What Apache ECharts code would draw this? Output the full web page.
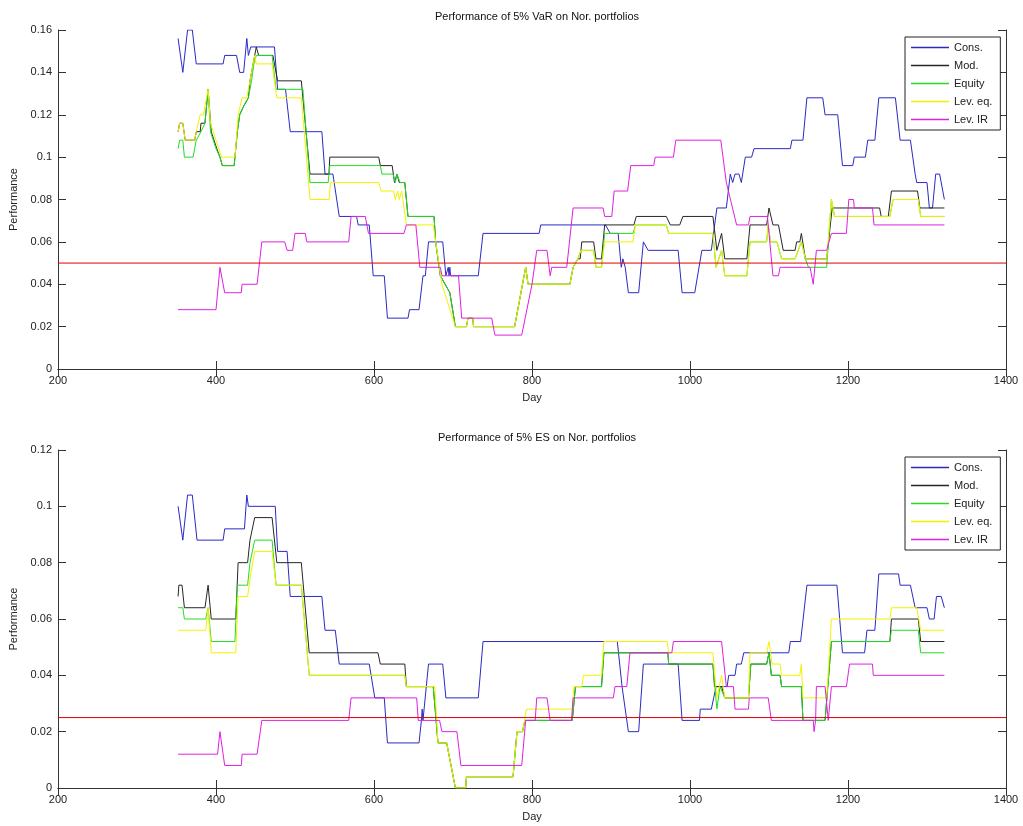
<!DOCTYPE html>
<html>
<head>
<meta charset="utf-8">
<script src="https://cdn.jsdelivr.net/npm/echarts@6/dist/echarts.min.js"></script>
<style>
html,body{margin:0;padding:0;background:#fff;}
#c{width:1023px;height:826px;}
</style>
</head>
<body>
<div id="c"></div>
<script>
// ---------- data: [day, performance] breakpoints ----------
var seriesNames = ['Cons.', 'Mod.', 'Equity', 'Lev. eq.', 'Lev. IR'];
var titles = ['Performance of 5% VaR on Nor. portfolios', 'Performance of 5% ES on Nor. portfolios'];
var refLevels = [0.05, 0.025];
var xRange = [200, 1400];
var yMaxes = [0.16, 0.12];

var varCons = [[352,0.156],[358,0.140],[364,0.160],[370,0.160],[375,0.144],[409,0.144],[411,0.148],[426,0.148],[430,0.140],[435,0.140],[439,0.156],[441,0.148],[444,0.152],[474,0.152],[478,0.132],[488,0.132],[494,0.112],[534,0.112],[538,0.092],[548,0.092],[556,0.072],[578,0.072],[580,0.068],[594,0.068],[599,0.044],[613,0.044],[617,0.024],[643,0.024],[645,0.028],[657,0.028],[662,0.044],[665,0.044],[669,0.060],[687,0.060],[691,0.044],[694,0.048],[695,0.044],[696,0.048],[697,0.044],[732,0.044],[738,0.064],[809,0.064],[811,0.068],[893,0.068],[899,0.064],[909,0.064],[913,0.048],[915,0.052],[918,0.048],[922,0.036],[935,0.036],[941,0.060],[947,0.056],[985,0.056],[990,0.036],[1006,0.036],[1015,0.056],[1027,0.056],[1034,0.076],[1046,0.076],[1051,0.092],[1054,0.088],[1057,0.092],[1062,0.092],[1065,0.088],[1070,0.100],[1078,0.100],[1081,0.104],[1127,0.104],[1129,0.108],[1143,0.108],[1148,0.128],[1168,0.128],[1171,0.120],[1187,0.120],[1193,0.096],[1206,0.096],[1208,0.100],[1222,0.100],[1225,0.108],[1234,0.108],[1239,0.128],[1260,0.128],[1266,0.108],[1279,0.108],[1285,0.092],[1287,0.088],[1300,0.088],[1303,0.076],[1307,0.076],[1311,0.092],[1316,0.092],[1322,0.080]];

var varMod = [[352,0.112],[354,0.116],[358,0.116],[361,0.108],[373,0.108],[375,0.112],[380,0.112],[381,0.116],[386,0.116],[390,0.132],[394,0.112],[401,0.104],[405,0.100],[408,0.096],[423,0.096],[427,0.112],[430,0.120],[435,0.124],[441,0.128],[443,0.136],[447,0.144],[451,0.152],[454,0.148],[472,0.148],[478,0.136],[508,0.136],[519,0.092],[543,0.092],[544,0.100],[606,0.100],[608,0.096],[623,0.096],[626,0.088],[629,0.092],[632,0.088],[639,0.088],[643,0.072],[676,0.072],[678,0.060],[684,0.044],[696,0.036],[703,0.020],[717,0.020],[719,0.024],[725,0.024],[726,0.020],[778,0.020],[792,0.048],[795,0.040],[848,0.040],[852,0.048],[858,0.052],[861,0.052],[863,0.060],[878,0.060],[881,0.052],[888,0.052],[892,0.068],[929,0.068],[932,0.072],[970,0.072],[975,0.068],[987,0.068],[991,0.072],[1029,0.072],[1034,0.056],[1040,0.064],[1044,0.052],[1072,0.052],[1076,0.068],[1097,0.068],[1100,0.076],[1105,0.068],[1112,0.068],[1118,0.056],[1133,0.056],[1135,0.060],[1139,0.060],[1141,0.064],[1146,0.052],[1173,0.052],[1180,0.076],[1240,0.076],[1242,0.072],[1251,0.072],[1255,0.084],[1288,0.084],[1291,0.076],[1322,0.076]];

var varEquity = [[352,0.104],[354,0.108],[358,0.108],[360,0.100],[371,0.100],[375,0.108],[381,0.112],[386,0.116],[390,0.132],[393,0.112],[400,0.104],[405,0.100],[408,0.096],[423,0.096],[427,0.112],[430,0.120],[435,0.124],[441,0.128],[445,0.136],[448,0.144],[451,0.148],[471,0.148],[476,0.132],[510,0.132],[519,0.088],[542,0.088],[544,0.096],[608,0.096],[610,0.092],[624,0.092],[627,0.088],[629,0.092],[631,0.092],[633,0.088],[639,0.088],[643,0.072],[676,0.072],[678,0.060],[684,0.044],[696,0.036],[703,0.020],[717,0.020],[719,0.024],[725,0.024],[726,0.020],[778,0.020],[792,0.048],[795,0.040],[848,0.040],[852,0.048],[858,0.052],[862,0.056],[878,0.056],[881,0.048],[888,0.048],[892,0.064],[928,0.064],[931,0.068],[970,0.068],[973,0.064],[1029,0.064],[1033,0.048],[1040,0.056],[1044,0.044],[1072,0.044],[1076,0.060],[1097,0.060],[1099,0.068],[1102,0.060],[1110,0.060],[1116,0.052],[1133,0.052],[1141,0.060],[1146,0.052],[1150,0.048],[1173,0.048],[1179,0.080],[1183,0.072],[1253,0.072],[1257,0.080],[1289,0.080],[1292,0.072],[1322,0.072]];

var varLevEq = [[352,0.112],[354,0.116],[358,0.116],[361,0.108],[373,0.108],[375,0.112],[380,0.120],[384,0.120],[390,0.132],[393,0.116],[400,0.108],[407,0.100],[424,0.100],[428,0.120],[433,0.128],[439,0.128],[443,0.136],[449,0.148],[451,0.144],[471,0.144],[477,0.128],[508,0.128],[519,0.080],[543,0.080],[545,0.088],[606,0.088],[609,0.084],[625,0.084],[627,0.080],[630,0.084],[632,0.080],[635,0.084],[641,0.068],[675,0.068],[686,0.040],[703,0.020],[717,0.020],[719,0.024],[725,0.024],[726,0.020],[778,0.020],[792,0.048],[795,0.040],[848,0.040],[852,0.048],[858,0.052],[862,0.056],[878,0.056],[881,0.048],[888,0.048],[892,0.060],[928,0.060],[931,0.068],[970,0.068],[973,0.064],[1029,0.064],[1033,0.048],[1040,0.056],[1044,0.044],[1072,0.044],[1076,0.060],[1097,0.060],[1099,0.068],[1102,0.060],[1110,0.060],[1116,0.052],[1133,0.052],[1141,0.060],[1146,0.052],[1173,0.052],[1179,0.080],[1183,0.072],[1253,0.072],[1257,0.080],[1289,0.080],[1292,0.072],[1322,0.072]];

var varLevIR = [[352,0.028],[400,0.028],[405,0.048],[407,0.048],[411,0.036],[432,0.036],[433,0.040],[452,0.040],[458,0.060],[487,0.060],[490,0.056],[497,0.056],[500,0.064],[513,0.064],[515,0.060],[568,0.060],[571,0.072],[589,0.072],[593,0.064],[638,0.064],[641,0.068],[653,0.068],[658,0.048],[684,0.048],[686,0.044],[707,0.044],[711,0.024],[749,0.024],[753,0.016],[787,0.016],[800,0.040],[806,0.056],[819,0.056],[823,0.044],[825,0.048],[844,0.048],[852,0.076],[890,0.076],[892,0.072],[901,0.072],[904,0.084],[921,0.084],[925,0.096],[954,0.096],[956,0.100],[979,0.100],[982,0.108],[1039,0.108],[1046,0.088],[1059,0.068],[1074,0.068],[1076,0.072],[1098,0.072],[1100,0.064],[1105,0.044],[1112,0.044],[1114,0.048],[1152,0.048],[1156,0.040],[1160,0.056],[1173,0.056],[1179,0.064],[1198,0.064],[1201,0.080],[1207,0.080],[1208,0.076],[1231,0.076],[1233,0.068],[1322,0.068]];

var esCons = [[352,0.100],[358,0.088],[364,0.104],[370,0.104],[376,0.088],[409,0.088],[411,0.092],[436,0.092],[439,0.104],[441,0.100],[475,0.100],[478,0.084],[490,0.084],[494,0.068],[534,0.068],[538,0.056],[551,0.056],[556,0.044],[594,0.044],[601,0.032],[613,0.032],[617,0.016],[657,0.016],[660,0.024],[661,0.028],[662,0.024],[669,0.044],[687,0.044],[691,0.032],[732,0.032],[738,0.052],[908,0.052],[914,0.036],[922,0.020],[935,0.020],[941,0.044],[985,0.044],[990,0.024],[1012,0.024],[1013,0.028],[1027,0.028],[1030,0.032],[1033,0.036],[1047,0.036],[1049,0.040],[1057,0.040],[1059,0.044],[1065,0.044],[1068,0.048],[1125,0.048],[1127,0.052],[1140,0.052],[1148,0.072],[1186,0.072],[1193,0.048],[1221,0.048],[1224,0.056],[1234,0.056],[1239,0.076],[1264,0.076],[1266,0.072],[1279,0.072],[1285,0.064],[1300,0.064],[1303,0.060],[1309,0.060],[1312,0.068],[1318,0.068],[1322,0.064]];

var esMod = [[352,0.068],[353,0.072],[357,0.072],[360,0.064],[386,0.064],[390,0.072],[394,0.060],[425,0.060],[428,0.080],[440,0.080],[443,0.088],[449,0.096],[471,0.096],[477,0.080],[508,0.080],[518,0.048],[605,0.048],[608,0.044],[639,0.044],[641,0.036],[675,0.036],[681,0.016],[692,0.016],[703,0.000],[716,0.000],[717,0.004],[776,0.004],[781,0.020],[788,0.020],[791,0.024],[851,0.024],[855,0.036],[888,0.036],[891,0.048],[972,0.048],[973,0.044],[1029,0.044],[1031,0.036],[1040,0.036],[1044,0.032],[1074,0.032],[1077,0.044],[1097,0.044],[1100,0.048],[1103,0.040],[1114,0.040],[1116,0.036],[1141,0.036],[1143,0.024],[1171,0.024],[1179,0.052],[1253,0.052],[1255,0.060],[1289,0.060],[1292,0.052],[1322,0.052]];

var esEquity = [[352,0.064],[358,0.064],[360,0.060],[387,0.060],[390,0.064],[394,0.052],[424,0.052],[427,0.072],[440,0.072],[443,0.080],[449,0.088],[471,0.088],[476,0.072],[508,0.072],[518,0.040],[639,0.040],[641,0.036],[675,0.036],[681,0.016],[692,0.016],[703,0.000],[716,0.000],[717,0.004],[776,0.004],[781,0.020],[788,0.020],[791,0.024],[851,0.024],[855,0.036],[888,0.036],[891,0.048],[972,0.048],[973,0.044],[1029,0.044],[1034,0.028],[1038,0.036],[1044,0.032],[1074,0.032],[1077,0.044],[1097,0.044],[1100,0.048],[1103,0.040],[1114,0.040],[1116,0.036],[1141,0.036],[1143,0.024],[1171,0.024],[1179,0.052],[1253,0.052],[1255,0.056],[1289,0.056],[1292,0.048],[1322,0.048]];

var esLevEq = [[352,0.056],[387,0.056],[390,0.064],[394,0.048],[425,0.048],[428,0.068],[440,0.068],[444,0.076],[449,0.084],[471,0.084],[476,0.072],[508,0.072],[518,0.040],[639,0.040],[641,0.036],[677,0.036],[681,0.016],[692,0.016],[703,0.000],[716,0.000],[717,0.004],[776,0.004],[781,0.020],[788,0.020],[793,0.028],[851,0.028],[853,0.036],[863,0.036],[865,0.040],[888,0.040],[891,0.052],[971,0.052],[973,0.048],[1029,0.048],[1034,0.032],[1040,0.040],[1042,0.040],[1044,0.032],[1074,0.032],[1076,0.048],[1097,0.048],[1100,0.052],[1102,0.048],[1104,0.044],[1114,0.044],[1116,0.040],[1139,0.040],[1141,0.044],[1143,0.032],[1173,0.032],[1179,0.060],[1253,0.060],[1255,0.064],[1287,0.064],[1292,0.056],[1322,0.056]];

var esLevIR = [[352,0.012],[402,0.012],[405,0.020],[407,0.020],[411,0.008],[432,0.008],[433,0.012],[452,0.012],[458,0.024],[568,0.024],[571,0.032],[654,0.032],[656,0.024],[683,0.024],[686,0.020],[705,0.020],[710,0.008],[787,0.008],[792,0.024],[804,0.024],[806,0.032],[819,0.032],[823,0.024],[850,0.024],[852,0.032],[903,0.032],[905,0.036],[920,0.036],[924,0.048],[977,0.048],[979,0.052],[1040,0.052],[1046,0.036],[1055,0.036],[1057,0.028],[1074,0.028],[1075,0.032],[1099,0.032],[1101,0.028],[1103,0.024],[1156,0.024],[1157,0.020],[1159,0.024],[1160,0.036],[1171,0.036],[1175,0.024],[1177,0.024],[1179,0.036],[1198,0.036],[1202,0.044],[1231,0.044],[1232,0.040],[1322,0.040]];

// ---------- chart ----------
var colors = ['#2a2ac4', '#262626', '#22dd22', '#f2f200', '#e020e0'];
var refColor = '#e00000';
var FONT = 'Liberation Sans, Arial, Helvetica, sans-serif';
var panels = [
  [varCons, varMod, varEquity, varLevEq, varLevIR],
  [esCons, esMod, esEquity, esLevEq, esLevIR]
];
var grids = [
  {left: 58, top: 30, width: 948, height: 339},
  {left: 58, top: 450, width: 948, height: 338}
];

var chart = echarts.init(document.getElementById('c'), null, {renderer: 'canvas'});

var axisLine = {show: true, lineStyle: {color: '#333', width: 1}};
var tick = {show: true, inside: true, length: 8, lineStyle: {color: '#333', width: 1}};
var labelStyle = {color: '#222', fontSize: 11, fontFamily: FONT};

var legendData = seriesNames.map(function (n, i) {
  return {
    name: n,
    icon: 'path://M0,0L38,0L38,1.3L0,1.3Z',
    itemStyle: {color: colors[i], borderWidth: 0}
  };
});

var xAxes = [], yAxes = [], series = [], legends = [], titleArr = [];
for (var g = 0; g < 2; g++) {
  xAxes.push({
    type: 'value', gridIndex: g, min: xRange[0], max: xRange[1], interval: 200,
    position: 'bottom', axisLine: axisLine, axisTick: tick, splitLine: {show: false},
    axisLabel: Object.assign({margin: 6, formatter: function (v) { return String(v); }}, labelStyle),
    name: 'Day', nameLocation: 'middle', nameGap: 23,
    nameTextStyle: {color: '#222', fontSize: 11, fontFamily: FONT}
  });
  xAxes.push({
    type: 'value', gridIndex: g, min: xRange[0], max: xRange[1], interval: 200,
    position: 'top', axisLine: axisLine, axisTick: tick, splitLine: {show: false},
    axisLabel: {show: false}
  });
  yAxes.push({
    type: 'value', gridIndex: g, min: 0, max: yMaxes[g], interval: 0.02,
    position: 'left', axisLine: axisLine, axisTick: tick, splitLine: {show: false},
    axisLabel: Object.assign({margin: 6}, labelStyle),
    name: 'Performance', nameLocation: 'middle', nameGap: 32, nameRotate: 90,
    nameTextStyle: {color: '#222', fontSize: 11, fontFamily: FONT}
  });
  yAxes.push({
    type: 'value', gridIndex: g, min: 0, max: yMaxes[g], interval: 0.02,
    position: 'right', axisLine: axisLine, axisTick: tick, splitLine: {show: false},
    axisLabel: {show: false}
  });
  for (var s = 0; s < 5; s++) {
    series.push({
      name: seriesNames[s], type: 'line', xAxisIndex: 2 * g, yAxisIndex: 2 * g,
      data: panels[g][s], symbol: 'none', showSymbol: false,
      lineStyle: {color: colors[s], width: 1}, itemStyle: {color: colors[s]},
      z: 2 + s, silent: true
    });
  }
  series.push({
    name: 'ref' + g, type: 'line', xAxisIndex: 2 * g, yAxisIndex: 2 * g,
    data: [[xRange[0], refLevels[g]], [xRange[1], refLevels[g]]],
    symbol: 'none', lineStyle: {color: refColor, width: 1}, z: 10, silent: true
  });
  legends.push({
    data: legendData, orient: 'vertical', left: 905, top: grids[g].top + 7,
    itemWidth: 38, itemHeight: 10, itemGap: 7, symbolKeepAspect: true,
    padding: [5, 8, 5, 6],
    backgroundColor: '#fff', borderColor: '#222', borderWidth: 1, borderRadius: 0,
    textStyle: {color: '#222', fontSize: 11, fontFamily: FONT},
    selectedMode: false
  });
  titleArr.push({
    text: titles[g], left: 532, textAlign: 'center',
    top: g === 0 ? 6 : 427,
    textStyle: {color: '#111', fontSize: 11, fontWeight: 'normal', fontFamily: FONT}
  });
}

chart.setOption({
  animation: false,
  backgroundColor: '#fff',
  title: titleArr,
  grid: grids,
  xAxis: xAxes,
  yAxis: yAxes,
  legend: legends,
  series: series
});
</script>
</body>
</html>
